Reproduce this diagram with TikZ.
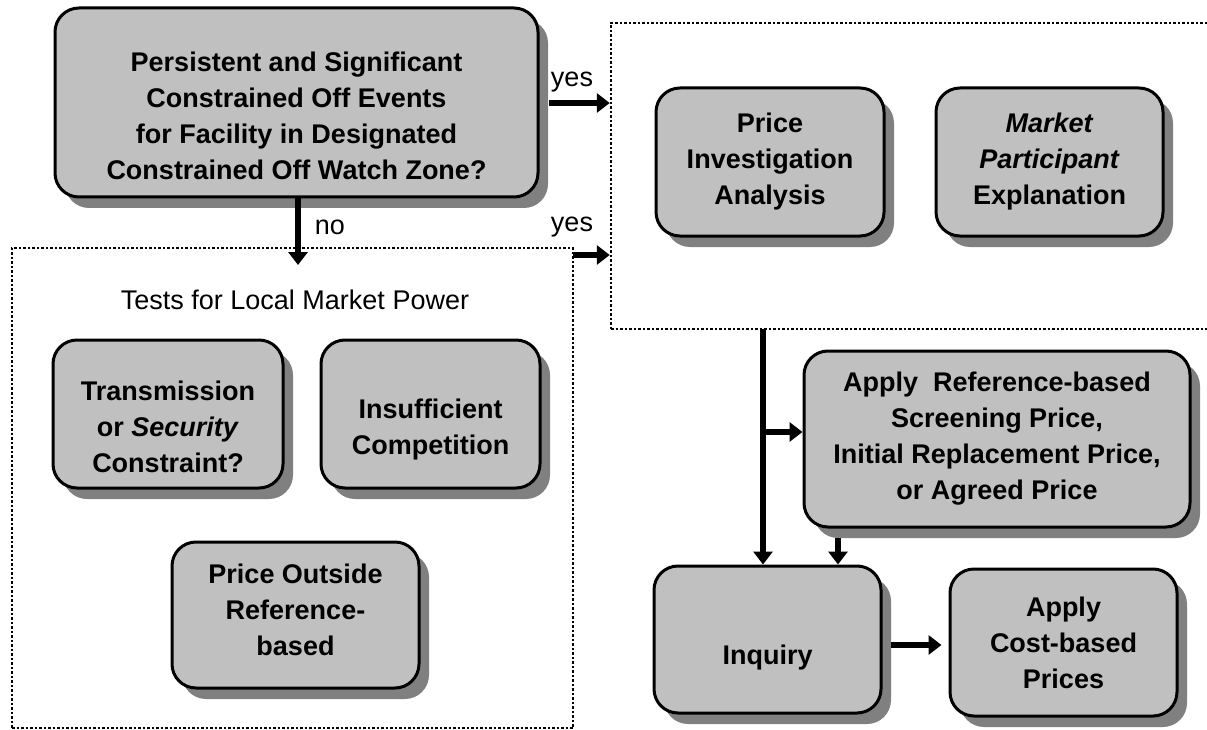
\documentclass[tikz,border=0pt]{standalone}
\usepackage{fontspec}
\setmainfont{Liberation Sans}
\usetikzlibrary{arrows.meta,shadows}
\definecolor{boxgrey}{HTML}{C0C0C0}
\definecolor{shadegrey}{HTML}{808080}

\begin{document}
\begin{tikzpicture}[x=1pt,y=-1pt,
	box/.style={draw,line width=3pt,rounded corners=24pt,fill=boxgrey,align=center,inner sep=0pt,
		font=\fontsize{27}{36}\selectfont\bfseries,
		drop shadow={shadow xshift=10pt,shadow yshift=-11pt,fill=shadegrey,opacity=1}},
	zone/.style={draw,line width=2.5pt,dash pattern=on 2.5pt off 2pt,inner sep=0pt},
	link/.style={line width=5.5pt,-{Triangle[length=13pt,width=19pt]}},
	lbl/.style={font=\fontsize{27}{32}\selectfont}]
		\useasboundingbox (0,0) rectangle (1207,730);
		\node[zone,minimum width=561pt,minimum height=480pt] (lmp) at (292.5,488) {};
		\node[zone,minimum width=604pt,minimum height=306pt] (inv) at (913,176) {};
		\node[lbl] (tlmp) at (295,300) {Tests for Local Market Power};
		\node[box,minimum width=483pt,minimum height=189pt] (q) at (296.5,102.5)
			{\rule{0pt}{47pt}Persistent and Significant\\Constrained Off Events\\for Facility in Designated\\Constrained Off Watch Zone?};
		\node[box,minimum width=228pt,minimum height=148pt] (pia) at (770,162) {Price\\Investigation\\Analysis};
		\node[box,minimum width=227pt,minimum height=148pt] (mpe) at (1049.5,162) {\textit{Market}\\\textit{Participant}\\Explanation};
		\node[box,minimum width=230pt,minimum height=148pt] (tsc) at (168,414) {\rule{0pt}{45pt}Transmission\\or \textit{Security}\\Constraint?};
		\node[box,minimum width=219pt,minimum height=148pt] (ic) at (430.5,414) {\rule{0pt}{51pt}Insufficient\\Competition};
		\node[box,minimum width=247pt,minimum height=146pt] (por) at (295.5,615) {Price Outside\\Reference-\\based\rule[-10pt]{0pt}{10pt}};
		\node[box,minimum width=386pt,minimum height=176pt] (arp) at (997,439)
			{Apply~~Reference-based\\Screening Price,\\Initial Replacement Price,\\or Agreed Price};
		\node[box,minimum width=227pt,minimum height=147pt] (inq) at (767.5,639.5) {\rule{0pt}{55pt}Inquiry};
		\node[box,minimum width=227pt,minimum height=147pt] (acp) at (1063.5,642.5) {Apply\\Cost-based\\Prices};
		\node[lbl] (yes1) at (572,82) {yes};
		\node[lbl] (yes2) at (572,227) {yes};
		\node[lbl] (no) at (330,227) {no};
		\coordinate (nogo) at (298,265);
		\coordinate (y1) at (549,103);
		\coordinate (y2) at (573,255);
		\coordinate (trunk) at (763,329);
		\coordinate (fork) at (763,432);
		\coordinate (drop) at (838,538);
		\coordinate (go) at (891,645);
		\draw[link] (q.south -| nogo) -- (nogo);
		\draw[link] (y1) -- (y1 -| inv.west);
		\draw[link] (y2) -- (y2 -| inv.west);
		\draw[link] (trunk) -- (trunk |- inq.north);
		\draw[link] (fork) -- (fork -| arp.west);
		\draw[link] (drop) -- (drop |- inq.north);
		\draw[link,shorten >=7pt] (go) -- (go -| acp.west);
\end{tikzpicture}
\end{document}
